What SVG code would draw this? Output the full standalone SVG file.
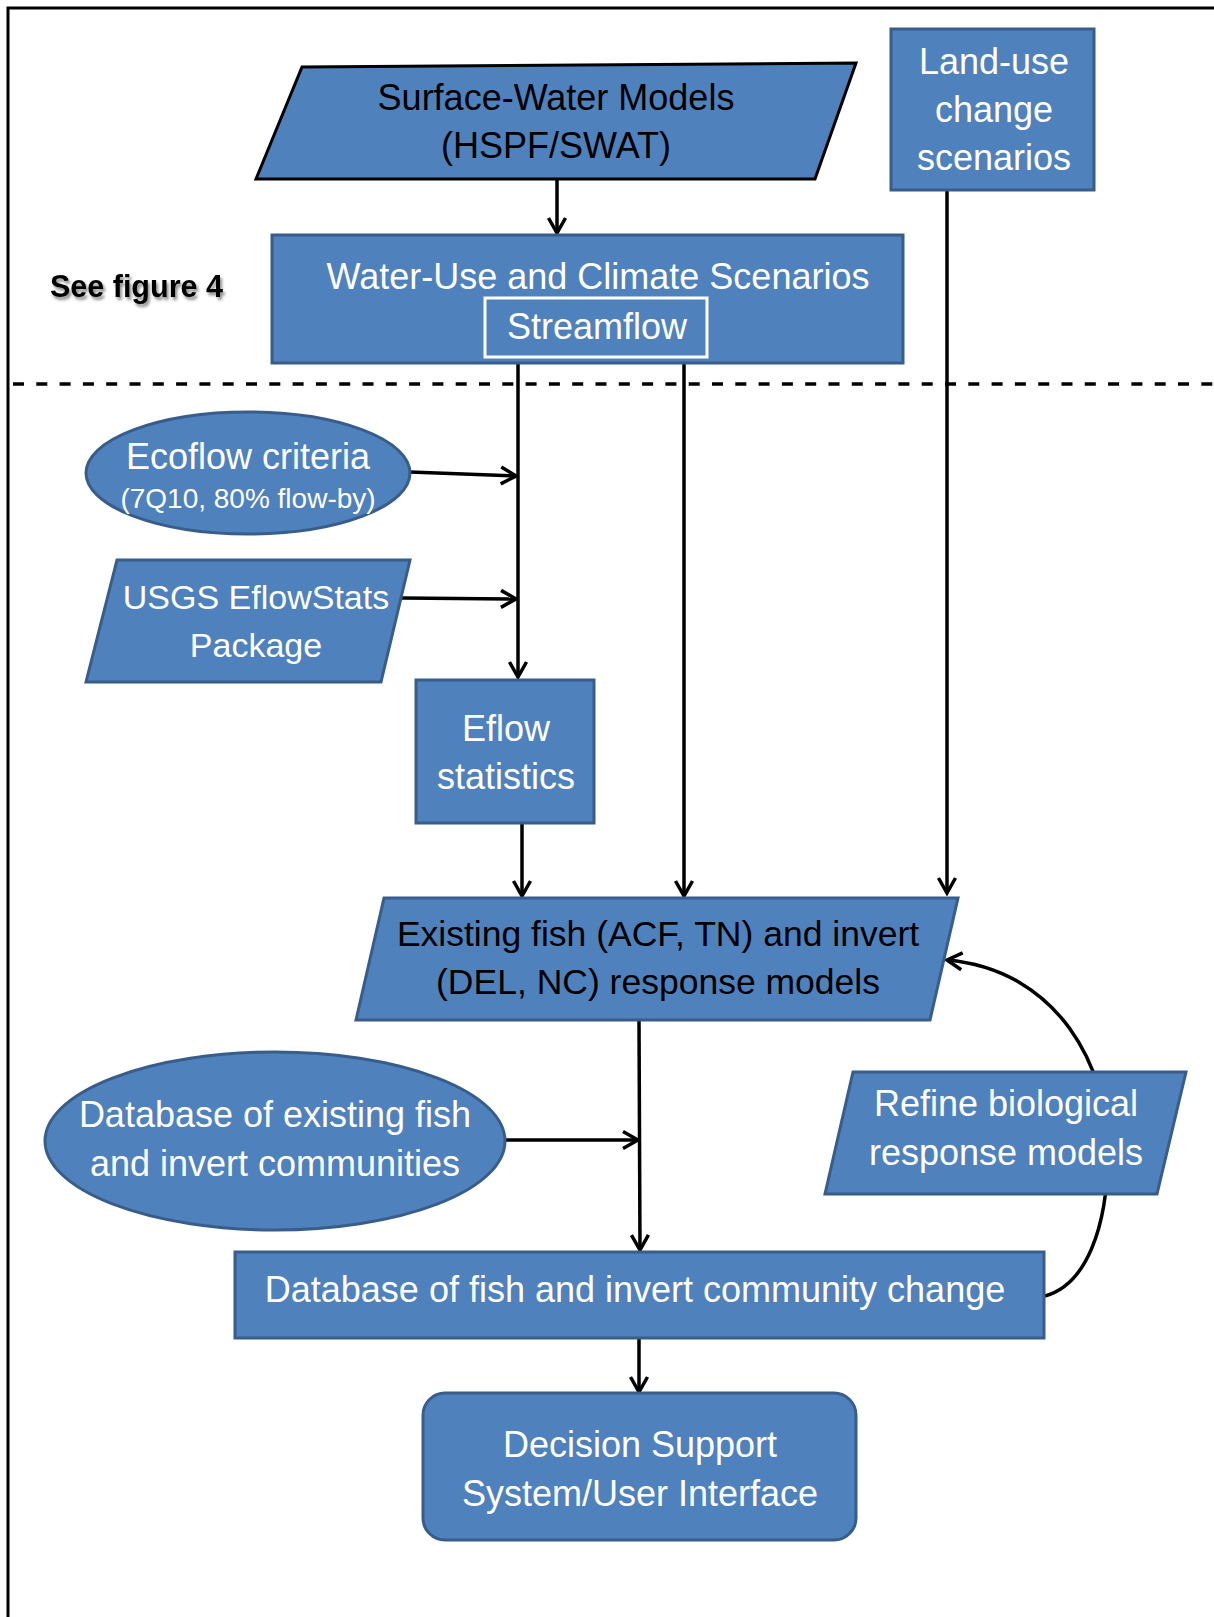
<svg xmlns="http://www.w3.org/2000/svg" width="1214" height="1617" viewBox="0 0 1214 1617">
<style>
.node{fill:#4F81BD;stroke:#385D8A;stroke-width:3}
.dark{stroke:#000}
.t{font-family:"Liberation Sans",Arial,sans-serif;font-size:36px;fill:#fff;text-anchor:middle}
.tb{fill:#000}
.s28{font-size:28px}
.s34{font-size:34px}
.s355{font-size:35.5px}
.c{fill:none;stroke:#000;stroke-width:3.5}
</style>
<defs>
<marker id="arr" viewBox="0 0 22 22" refX="19" refY="11" markerWidth="22" markerHeight="22" markerUnits="userSpaceOnUse" orient="auto">
<path d="M4,2.5 L19,11 L4,19.5" fill="none" stroke="#000" stroke-width="3.5" stroke-linejoin="miter"/>
</marker>
<filter id="sh" x="-10%" y="-30%" width="130%" height="170%">
<feDropShadow dx="2" dy="3" stdDeviation="1.5" flood-color="#000" flood-opacity="0.45"/>
</filter>
</defs>
<rect width="1214" height="1617" fill="#fff"/>
<g id="frame" fill="none" stroke="#000">
<path d="M8,1617 L8,8 L1214,8" stroke-width="3"/>
<line x1="8" y1="384" x2="1214" y2="384" stroke-width="3.5" stroke-dasharray="11,12.3" stroke-dashoffset="-5"/>
</g>
<g id="connectors">
<path class="c" d="M557,179 L557,233" marker-end="url(#arr)"/>
<path class="c" d="M518,364 L518,677" marker-end="url(#arr)"/>
<path class="c" d="M410,472 L516,476" marker-end="url(#arr)"/>
<path class="c" d="M402,598 L516,599" marker-end="url(#arr)"/>
<path class="c" d="M522,823 L522,896" marker-end="url(#arr)"/>
<path class="c" d="M684,364 L684,896" marker-end="url(#arr)"/>
<path class="c" d="M947,190 L947,893" marker-end="url(#arr)"/>
<path class="c" d="M639,1020 L640,1250" marker-end="url(#arr)"/>
<path class="c" d="M505,1140 L638,1140" marker-end="url(#arr)"/>
<path class="c" d="M639,1338 L639,1392" marker-end="url(#arr)"/>
<path class="c" d="M1045,1296 C1085,1285 1108,1230 1108,1150 C1108,1070 1060,970 947,960" marker-end="url(#arr)"/>
</g>
<g id="see-figure">
<text x="50" y="297" font-family="'Liberation Sans',Arial,sans-serif" font-size="30.5" font-weight="bold" fill="#000" filter="url(#sh)">See figure 4</text>
</g>
<g id="surface-water">
<polygon class="node dark" points="302,67 856,63 815,179 256,179"/>
<text class="t tb" x="556" y="110">Surface-Water Models</text>
<text class="t tb" x="556" y="158">(HSPF/SWAT)</text>
</g>
<g id="land-use">
<rect class="node" x="891" y="29" width="203" height="161"/>
<text class="t" x="994" y="74">Land-use</text>
<text class="t" x="994" y="122">change</text>
<text class="t" x="994" y="170">scenarios</text>
</g>
<g id="water-use">
<rect class="node" x="272" y="235" width="631" height="128"/>
<text class="t" x="598" y="289">Water-Use and Climate Scenarios</text>
<rect x="485" y="298" width="222" height="59" fill="none" stroke="#fff" stroke-width="3"/>
<text class="t" x="597" y="339">Streamflow</text>
</g>
<g id="ecoflow">
<ellipse class="node" cx="248" cy="473" rx="162" ry="61"/>
<text class="t" x="248" y="469">Ecoflow criteria</text>
<text class="t s28" x="248" y="508">(7Q10, 80% flow-by)</text>
</g>
<g id="eflowstats">
<polygon class="node" points="117,560 410,560 381,682 86,682"/>
<text class="t s34" x="256" y="609">USGS EflowStats</text>
<text class="t s34" x="256" y="657">Package</text>
</g>
<g id="eflow-statistics">
<rect class="node" x="416" y="680" width="178" height="143"/>
<text class="t" x="506" y="741">Eflow</text>
<text class="t" x="506" y="789">statistics</text>
</g>
<g id="existing-models">
<polygon class="node" points="384,898 958,898 930,1020 356,1020"/>
<text class="t tb s355" x="658" y="946">Existing fish (ACF, TN) and invert</text>
<text class="t tb s355" x="658" y="994">(DEL, NC) response models</text>
</g>
<g id="db-existing">
<ellipse class="node" cx="275" cy="1141" rx="230" ry="89"/>
<text class="t" x="275" y="1127">Database of existing fish</text>
<text class="t" x="275" y="1176">and invert communities</text>
</g>
<g id="refine">
<polygon class="node" points="853,1072 1186,1072 1157,1194 825,1194"/>
<text class="t" x="1006" y="1116">Refine biological</text>
<text class="t" x="1006" y="1165">response models</text>
</g>
<g id="db-change">
<rect class="node" x="235" y="1252" width="809" height="86"/>
<text class="t" x="635" y="1302">Database of fish and invert community change</text>
</g>
<g id="decision">
<rect class="node" x="423" y="1393" width="433" height="147" rx="22" ry="22"/>
<text class="t" x="640" y="1457">Decision Support</text>
<text class="t" x="640" y="1506">System/User Interface</text>
</g>
</svg>
